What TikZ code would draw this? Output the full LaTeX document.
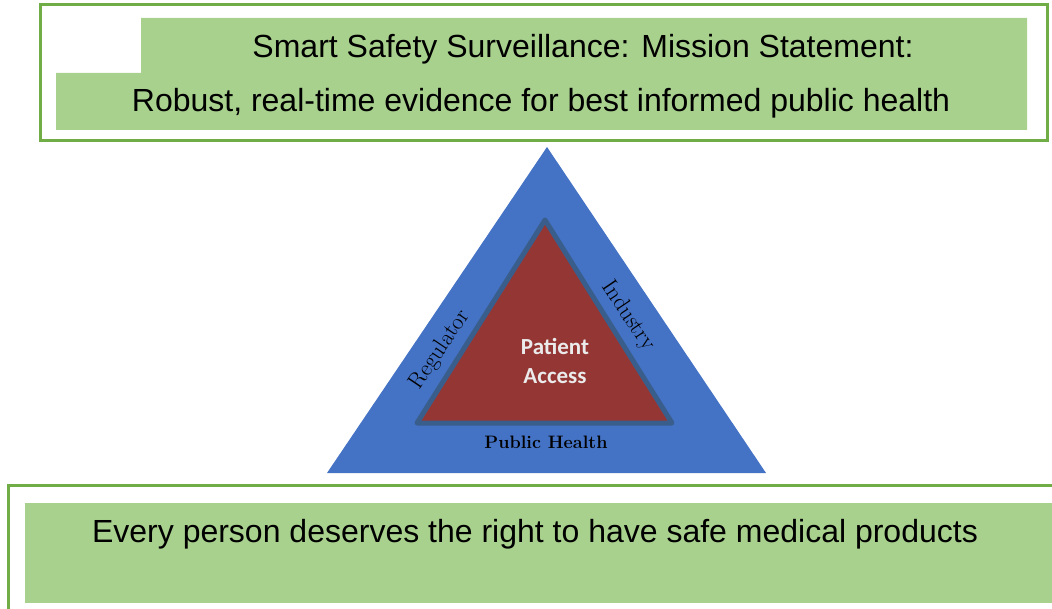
\documentclass[tikz,border=0pt]{standalone}
\usepackage{fontspec}
\newfontfamily\arialfont{Liberation Sans}
\newfontfamily\calibrifont{Carlito}
\usetikzlibrary{shapes,arrows}

\definecolor{framegreen}{HTML}{70AD47}
\definecolor{bannergreen}{HTML}{A9D18E}
\definecolor{outerblue}{HTML}{4472C4}
\definecolor{innerred}{HTML}{943634}
\definecolor{edgeblue}{HTML}{3A5E8C}

\tikzstyle{frame} = [draw=framegreen, line width=3pt]
\tikzstyle{banner} = [fill=bannergreen]
\tikzstyle{statement} = [font=\arialfont\fontsize{32}{36}\selectfont, inner sep=0pt]
\tikzstyle{side} = [font=\fontsize{23}{26}\selectfont, inner sep=0pt]
\tikzstyle{core} = [font=\calibrifont\bfseries\fontsize{23}{29}\selectfont,
    text=white!92!black, align=center, inner sep=0pt]

\begin{document}
\begin{tikzpicture}[x=1pt, y=-1pt]
    \useasboundingbox (0,0) rectangle (1052,609);
    \clip (0,0) rectangle (1052,609);

    % Mission box
    \draw [frame] (40,5) rectangle (1047,141);
    \path [banner] (141,18) -- (1027,18) -- (1027,130) -- (56,130) -- (56,73) -- (141,73) -- cycle;

    % Vision box
    \draw [frame] (8,485) rectangle (1070,630);
    \path [banner] (25,503) rectangle (1052,603);

    % Triangles
    \coordinate (top) at (547,147);
    \coordinate (left) at (327,473);
    \coordinate (right) at (766,473);
    \coordinate (itop) at (545,220);
    \coordinate (ileft) at (417,423);
    \coordinate (iright) at (672,423);
    \fill [outerblue] (top) -- (left) -- (right) -- cycle;
    \filldraw [fill=innerred, draw=edgeblue, line width=5pt, line join=round]
        (itop) -- (ileft) -- (iright) -- cycle;

    % Place nodes
    \node [statement] (title) at (583,49) {Smart Safety Surveillance: Mission Statement:};
    \node [statement] (mission) at (541,103) {Robust, real-time evidence for best informed public health};
    \node [statement] (vision) at (535,534) {Every person deserves the right to have safe medical products};

    \node [core] (patient) at (555,361) {Patient\\Access};
    \node [side, rotate=56] (regulator) at (440,350) {Regulator};
    \node [side, rotate=-56] (industry) at (628,316) {Industry};
    \node [side, font=\bfseries\fontsize{18}{22}\selectfont] (public) at (546,442) {Public Health};
\end{tikzpicture}
\end{document}
